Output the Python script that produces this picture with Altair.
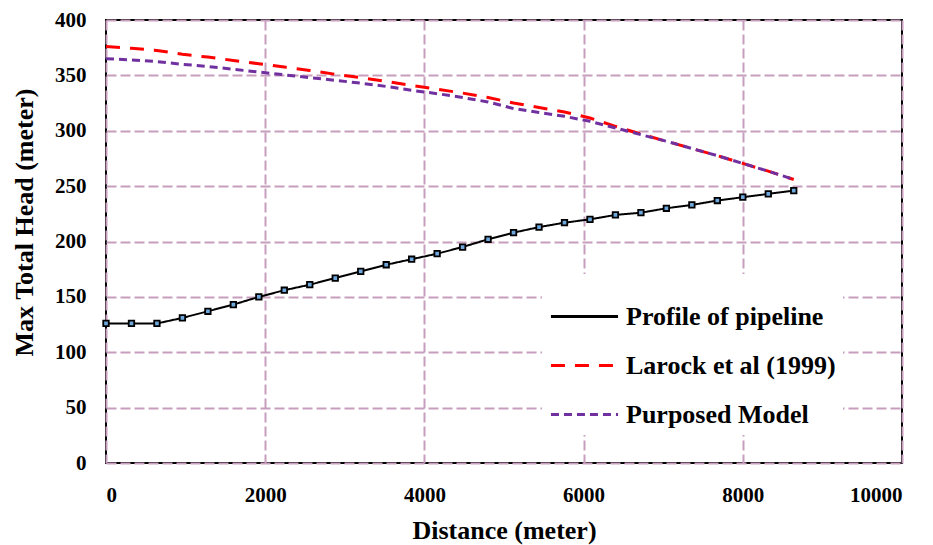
import altair as alt
import pandas as pd

# Distance (m) of the sampled stations
distance = [0, 320, 640, 960, 1280, 1600, 1920, 2240, 2560, 2880, 3200, 3520, 3840, 4160,
            4480, 4800, 5120, 5440, 5760, 6080, 6400, 6720, 7040, 7360, 7680, 8000, 8320, 8640]

profile = [126, 126, 126, 131, 137, 143, 150, 156, 161, 167, 173, 179, 184, 189,
           195, 202, 208, 213, 217, 220, 224, 226, 230, 233, 237, 240, 243, 246]

larock = [376, 374.5, 372.5, 369, 366.5, 363.5, 360.5, 357.5, 354.5, 351, 348, 344.5, 341, 337.5,
          334, 330, 325, 321, 317, 311.5, 304, 297, 290.5, 284, 277.5, 270.5, 263.5, 256]

purposed = [365, 364, 362.5, 360, 358, 355.5, 353, 350.5, 348, 345.5, 343, 340, 336.5, 333.5,
            330, 326, 320, 316.5, 313, 308.5, 302.5, 296.5, 290.5, 284, 277.5, 270.5, 263.5, 256]

series_names = ["Profile of pipeline", "Larock et al (1999)", "Purposed Model"]
series_colors = ["#000000", "#FF0000", "#7030A0"]
series_dashes = [[1, 0], [14, 10], [8, 5]]

x_ticks = [0, 2000, 4000, 6000, 8000, 10000]
y_ticks = [0, 50, 100, 150, 200, 250, 300, 350, 400]

rows = []
for name, vals in zip(series_names, [profile, larock, purposed]):
    for d, v in zip(distance, vals):
        rows.append({"series": name, "distance": d, "head": v})
df = pd.DataFrame(rows)

FONT = "Liberation Serif"

x_enc = alt.X("distance:Q",
              scale=alt.Scale(domain=[0, 10000], nice=False),
              axis=alt.Axis(values=x_ticks, title="Distance (meter)", format="d",
                            titleY=75, titleBaseline="alphabetic",
                            labelPadding=21, tickSize=0, ticks=False, domain=False))
y_enc = alt.Y("head:Q",
              scale=alt.Scale(domain=[0, 400], nice=False),
              axis=alt.Axis(values=y_ticks, title="Max Total Head (meter)",
                            titleX=-74, titleY=202, titleBaseline="alphabetic", titleAlign="center",
                            titleAngle=270,
                            labelPadding=20, tickSize=0, ticks=False, domain=False))

legend_opts = dict(title=None, orient="none", legendX=436, legendY=254,
                   symbolType="stroke", symbolSize=4500, symbolStrokeWidth=3,
                   labelFont=FONT, labelFontSize=26, labelFontWeight="bold",
                   labelColor="black", labelOffset=6, labelLimit=400,
                   fillColor="white", padding=7, rowPadding=0)

color_enc = alt.Color("series:N",
                      scale=alt.Scale(domain=series_names, range=series_colors),
                      legend=alt.Legend(**legend_opts))
dash_enc = alt.StrokeDash("series:N",
                          scale=alt.Scale(domain=series_names, range=series_dashes),
                          legend=alt.Legend(**legend_opts))

base = alt.Chart(df)

heads = base.transform_filter(alt.datum.series != series_names[0]).mark_line(strokeWidth=3).encode(
    x=x_enc, y=y_enc, color=color_enc, strokeDash=dash_enc, order="distance:Q")

prof_line = base.transform_filter(alt.datum.series == series_names[0]).mark_line(strokeWidth=2).encode(
    x=x_enc, y=y_enc, color=color_enc, strokeDash=dash_enc, order="distance:Q")

prof_pts = base.transform_filter(alt.datum.series == series_names[0]).mark_point(
    shape="square", filled=True, fill="#6FA8DC", stroke="black", strokeWidth=1.8, size=30, opacity=1
).encode(x=x_enc, y=y_enc)

chart = alt.layer(prof_line, prof_pts, heads).properties(
    width=796, height=443,
    padding={"left": 106, "top": 20, "right": 31, "bottom": 82},
    autosize=alt.AutoSizeParams(type="none"),
    background="white",
).configure_view(
    stroke="black", strokeWidth=2
).configure_axis(
    labelFont=FONT, labelFontSize=21, labelFontWeight="bold", labelColor="black",
    titleFont=FONT, titleFontSize=26, titleFontWeight="bold", titleColor="black",
    grid=True, gridColor="#C89EBE", gridDash=[10, 4], gridWidth=2, gridOpacity=1,
)

chart.save("out.html", embed_options={"renderer": "svg", "actions": False})
